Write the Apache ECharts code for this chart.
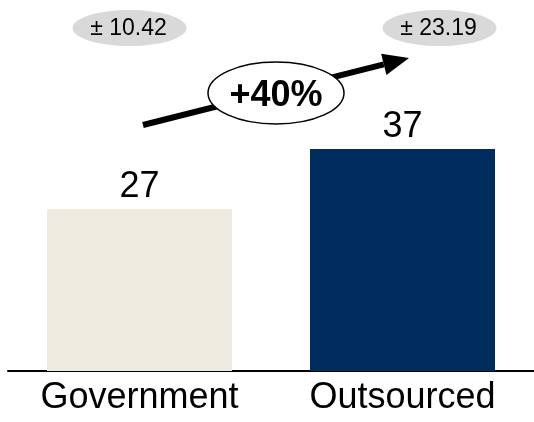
<!DOCTYPE html>
<html>
<head>
<meta charset="utf-8">
<script src="https://cdn.jsdelivr.net/npm/echarts@6/dist/echarts.min.js"></script>
<style>
  html, body { margin: 0; padding: 0; background: #fff; }
  #chart { width: 534px; height: 422px; }
</style>
</head>
<body>
<div id="chart"></div>
<script>
// Category names, values and colours for the two bars
const categories = ['Government', 'Outsourced'];
const values = [27, 37];
const barColors = ['#EEECE1', '#002C5E'];
// Margin of error shown in the grey pills above each bar
const margins = ['± 10.42', '± 23.19'];
// Change label carried by the arrow
const changeLabel = '+40%';

const FONT = '"Liberation Sans", Arial, sans-serif';

const chart = echarts.init(document.getElementById('chart'), null, { renderer: 'canvas' });

chart.setOption({
  animation: false,
  backgroundColor: '#fff',
  grid: { left: 8, right: 0, top: 11, bottom: 51, containLabel: false },
  xAxis: {
    type: 'category',
    data: categories,
    axisLine: { show: true, lineStyle: { color: '#000', width: 2 } },
    axisTick: { show: false },
    axisLabel: { color: '#000', fontSize: 36, fontFamily: FONT, margin: 9 }
  },
  yAxis: {
    type: 'value',
    min: 0,
    max: 60,
    show: false,
    splitLine: { show: false }
  },
  series: [{
    type: 'bar',
    barWidth: 185,
    data: values.map((v, i) => ({ value: v, itemStyle: { color: barColors[i] } })),
    label: {
      show: true,
      position: 'top',
      distance: 4,
      color: '#000',
      fontSize: 36,
      fontFamily: FONT
    }
  }]
});

// Annotations placed relative to the bars on the chart scales
function annotate() {
  const g = [];
  const pillOffsets = [-10, 37];
  const pillY = 28;
  categories.forEach((c, i) => {
    const [cx] = chart.convertToPixel({ gridIndex: 0 }, [i, 0]);
    const x = cx + pillOffsets[i];
    g.push({
      type: 'ellipse',
      shape: { cx: x, cy: pillY, rx: 57, ry: 18 },
      style: { fill: '#D9D9D9' },
      z: 10
    });
    g.push({
      type: 'text',
      x: x - 1, y: pillY + 1,
      style: {
        text: margins[i], fill: '#000', fontSize: 23, fontFamily: FONT,
        align: 'center', verticalAlign: 'middle'
      },
      z: 11
    });
  });

  // Trend arrow from the first bar towards the second
  const start = [143, 125];
  const tip = [409, 58];
  const ang = Math.atan2(tip[1] - start[1], tip[0] - start[0]);
  const headLen = 26, headHalf = 11;
  const bx = tip[0] - headLen * Math.cos(ang), by = tip[1] - headLen * Math.sin(ang);
  const nx = -Math.sin(ang), ny = Math.cos(ang);
  g.push({
    type: 'line',
    shape: { x1: start[0], y1: start[1], x2: bx, y2: by },
    style: { stroke: '#000', lineWidth: 6 },
    z: 12
  });
  g.push({
    type: 'polygon',
    shape: { points: [tip, [bx + nx * headHalf, by + ny * headHalf], [bx - nx * headHalf, by - ny * headHalf]] },
    style: { fill: '#000' },
    z: 12
  });
  g.push({
    type: 'ellipse',
    shape: { cx: 276, cy: 93, rx: 68, ry: 31 },
    style: { fill: '#fff', stroke: '#000', lineWidth: 1.5 },
    z: 13
  });
  g.push({
    type: 'text',
    x: 276, y: 96,
    style: {
      text: changeLabel, fill: '#000', fontSize: 36, fontWeight: 'bold', fontFamily: FONT,
      align: 'center', verticalAlign: 'middle'
    },
    z: 14
  });
  chart.setOption({ graphic: g });
}
annotate();
</script>
</body>
</html>
